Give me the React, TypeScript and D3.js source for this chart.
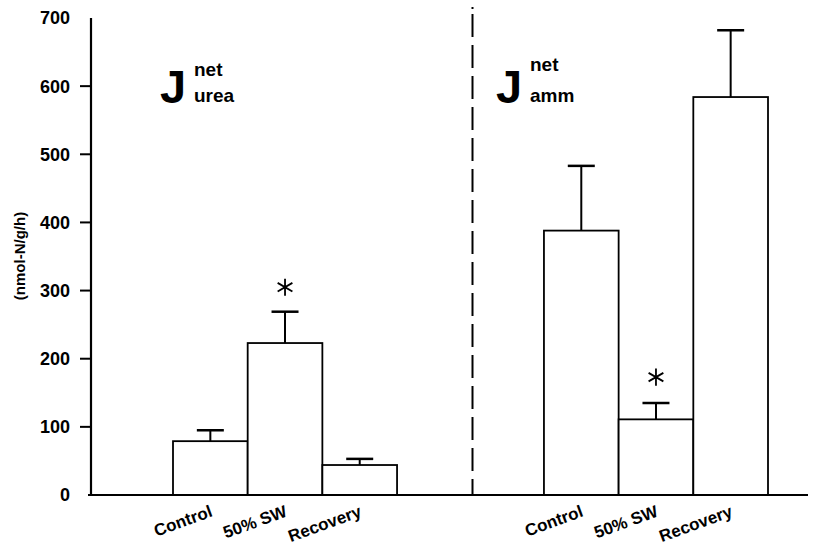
import React, { useRef, useEffect } from "react";
import * as d3 from "d3";

/* panels and bars */
const GROUPS = ["urea", "amm"];
const CATEGORIES = ["Control", "50% SW", "Recovery"];
const UREA_MEAN = [79, 223, 44];
const UREA_UPPER = [95, 269, 53];
const AMM_MEAN = [388, 111, 584];
const AMM_UPPER = [483, 135, 682];
/* significance stars: [category index, value at star] */
const UREA_STAR = [1, 305];
const AMM_STAR = [1, 173];
const Y_TICKS = [0, 100, 200, 300, 400, 500, 600, 700];

const FONT = "'Liberation Sans', Arial, Helvetica, sans-serif";

export default function App() {
  const svgRef = useRef<SVGSVGElement>(null);

  useEffect(() => {
    const W = 840;
    const H = 546;
    const X0 = 91; // y axis position
    const XR = 808; // end of x axis

    const svg = d3
      .select(svgRef.current)
      .attr("width", W)
      .attr("height", H)
      .style("font-family", FONT);
    svg.selectAll("*").remove();

    /* ---- scales ---- */
    const y = d3.scaleLinear().domain([0, 700]).range([495, 18]);
    const outer = d3
      .scaleBand<string>()
      .domain(GROUPS)
      .range([173, 768])
      .paddingInner(0.396);
    const inner = d3
      .scaleBand<string>()
      .domain(CATEGORIES)
      .range([0, outer.bandwidth()]);

    const panels = [
      { key: "urea", mean: UREA_MEAN, upper: UREA_UPPER, star: UREA_STAR },
      { key: "amm", mean: AMM_MEAN, upper: AMM_UPPER, star: AMM_STAR },
    ];

    /* ---- divider ---- */
    const divX = (outer("urea")! + outer.bandwidth() + outer("amm")!) / 2 + 2;
    svg
      .append("line")
      .attr("x1", divX)
      .attr("x2", divX)
      .attr("y1", 7)
      .attr("y2", y(0))
      .attr("stroke", "#000")
      .attr("stroke-width", 2)
      .attr("stroke-dasharray", "2,5" + ",23,8".repeat(16));

    /* ---- bars ---- */
    panels.forEach((p) => {
      const gx = outer(p.key)!;
      const g = svg.append("g").attr("transform", `translate(${gx},0)`);
      const idx = d3.range(CATEGORIES.length);
      const cx = (i: number) => inner(CATEGORIES[i])! + inner.bandwidth() / 2;

      // error bars (upper only)
      g.selectAll("line.err")
        .data(idx)
        .enter()
        .append("line")
        .attr("x1", cx)
        .attr("x2", cx)
        .attr("y1", (i) => y(p.mean[i]))
        .attr("y2", (i) => y(p.upper[i]))
        .attr("stroke", "#000")
        .attr("stroke-width", 2);
      g.selectAll("line.cap")
        .data(idx)
        .enter()
        .append("line")
        .attr("x1", (i) => cx(i) - 13.5)
        .attr("x2", (i) => cx(i) + 13.5)
        .attr("y1", (i) => y(p.upper[i]))
        .attr("y2", (i) => y(p.upper[i]))
        .attr("stroke", "#000")
        .attr("stroke-width", 2.5);

      g.selectAll("rect")
        .data(idx)
        .enter()
        .append("rect")
        .attr("x", (i) => inner(CATEGORIES[i])!)
        .attr("y", (i) => y(p.mean[i]))
        .attr("width", inner.bandwidth())
        .attr("height", (i) => y(0) - y(p.mean[i]))
        .attr("fill", "#fff")
        .attr("stroke", "#000")
        .attr("stroke-width", 1.8);

      // star
      g.append("path")
        .attr("d", d3.symbol(d3.symbolAsterisk, 205)()!)
        .attr("transform", `translate(${cx(p.star[0])},${y(p.star[1])})`)
        .attr("fill", "none")
        .attr("stroke", "#000")
        .attr("stroke-width", 1.8);

      // category labels
      g.selectAll("text.cat")
        .data(idx)
        .enter()
        .append("text")
        .attr("transform", (i) => `translate(${cx(i) + 3},516) rotate(-20)`)
        .attr("text-anchor", "end")
        .style("font-size", "17px")
        .style("font-weight", "bold")
        .text((i) => CATEGORIES[i]);
    });

    /* ---- panel titles ---- */
    const titles = [
      { x: 160, netY: 76, sub: "urea" },
      { x: 496, netY: 71, sub: "amm" },
    ];
    titles.forEach((t) => {
      svg
        .append("text")
        .attr("x", t.x)
        .attr("y", 103)
        .style("font-size", "47px")
        .style("font-weight", "bold")
        .text("J");
      svg
        .append("text")
        .attr("x", t.x + 34)
        .attr("y", t.netY)
        .style("font-size", "19px")
        .style("font-weight", "bold")
        .text("net");
      svg
        .append("text")
        .attr("x", t.x + 34)
        .attr("y", 102)
        .style("font-size", "19px")
        .style("font-weight", "bold")
        .text(t.sub);
    });

    /* ---- axes ---- */
    svg
      .append("line")
      .attr("x1", X0)
      .attr("x2", X0)
      .attr("y1", y(700))
      .attr("y2", y(0))
      .attr("stroke", "#000")
      .attr("stroke-width", 2.2);
    svg
      .append("line")
      .attr("x1", X0 - 3)
      .attr("x2", XR)
      .attr("y1", y(0))
      .attr("y2", y(0))
      .attr("stroke", "#000")
      .attr("stroke-width", 2.2);

    svg
      .selectAll("line.tick")
      .data(Y_TICKS.filter((v) => v > 0 && v < 700))
      .enter()
      .append("line")
      .attr("x1", X0 - 11)
      .attr("x2", X0)
      .attr("y1", (d) => y(d))
      .attr("y2", (d) => y(d))
      .attr("stroke", "#000")
      .attr("stroke-width", 2);

    svg
      .selectAll("text.tick")
      .data(Y_TICKS)
      .enter()
      .append("text")
      .attr("x", 70)
      .attr("y", (d) => y(d))
      .attr("dy", "0.36em")
      .attr("text-anchor", "end")
      .style("font-size", "18px")
      .style("font-weight", "bold")
      .text((d) => d);

    svg
      .append("text")
      .attr("transform", `translate(25,256) rotate(-90)`)
      .attr("text-anchor", "middle")
      .style("font-size", "15px")
      .style("font-weight", "bold")
      .text("(nmol-N/g/h)");
  }, []);

  return (
    <svg
      ref={svgRef}
      style={{ position: "absolute", left: 0, top: 0, background: "#fff" }}
    />
  );
}
